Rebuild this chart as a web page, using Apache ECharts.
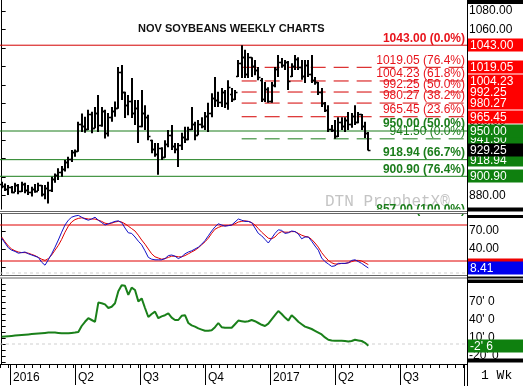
<!DOCTYPE html>
<html><head><meta charset="utf-8">
<script src="https://cdn.jsdelivr.net/npm/echarts@6/dist/echarts.min.js"></script>
<style>html,body{margin:0;padding:0;background:#fff}#c{width:523px;height:386px}</style>
</head><body><div id="c"></div><script>
// ---- data (weekly bars, Nov soybeans) ----
const opens  = [893,890,887,889,884,892,885,893,886,884,887,885,891,882,888,886,898,902,906,909,916,920,927,928,958,955,952,968,953,970,956,972,948,965,972,975,1014,992,978,982,970,975,955,970,965,940,930,925,932,922,936,946,934,930,935,944,941,952,958,946,958,955,966,970,986,984,981,992,980,990,985,1010,1024,1030,1012,1030,1020,1016,1005,985,996,983,1000,1017,1025,1022,1025,1010,1020,1028,1019,1010,1022,1012,1005,1003,992,980,973,952,951,945,960,955,962,958,966,960,968,955,948];
const highs  = [895,893,891.5,890.5,894,892.5,895,894,891.5,889.5,892.5,894,891.5,891.5,895,900.5,904,909.5,912,918.5,922,929.5,930,960,969,965.5,973,971,976,989,976,973,969.5,976,982,1019.5,1021.5,992.5,989,1007.5,983.5,983.5,994.5,978,967.5,940.5,937,937,932.5,940,951,956.5,937,937,948,954.5,954.5,976,960,962,965,970.5,980.5,991,1008.5,992.5,996.5,994.5,1005,996.5,994.5,1027,1043,1038,1034.5,1030,1027,1019.5,1007.5,1003,997.5,1003,1019.5,1032.5,1029,1027,1026,1023.5,1032.5,1030,1027,1027,1027,1032.5,1008.5,1003,996.5,981.5,978,956.5,962,965,965,965,970.5,969.5,978,970.5,968.5,960,949];
const lows   = [888,885,880.5,882.5,884,881.5,884,882.5,880.5,879,883,885,879,876,871.5,884,894,897,900.5,906,909.5,916.5,922,927.5,949,948,951,947.5,953,949,954.5,942,944,960,965.5,974,983.5,964,967,964,956.5,937,954,951,940,926,922,902.5,918.5,921,932.5,929.5,926,911,929.5,937,940,951,940,945.5,953,951,949,965,976,976,976,975,973,981.5,983.5,1008.5,1007.5,1007.5,1007.5,1008.5,1010.5,1005,981.5,981.5,980.5,980.5,997.5,1008.5,1018.5,1016,994.5,1008.5,1016,1016,1005.5,1002,1008.5,1002,1000,989,976,970.5,949,949,941.5,943.5,951,949,951,953.5,956.5,958.5,951,942.5,929];
const closes = [890,887,889,884,892,885,893,886,884,887,885,891,882,888,886,898,902,906,909,916,920,927,928,958,955,952,968,953,970,956,972,948,965,972,975,1014,992,978,982,970,975,955,970,965,945,930,925,932,922,936,946,934,930,935,944,941,952,958,946,958,955,966,970,986,984,981,992,980,998,985,992,1024,1030,1012,1030,1020,1016,1008,985,996,983,1000,1017,1025,1022,1025,1004,1020,1028,1019,1010,1022,1012,1005,1003,992,980,973,952,951,945,960,955,962,958,966,960,968,955,948,929.25];
// stochastic %K (blue) and %D (red)
const stochK = [58,50,42,38,36,33,34,35,32,30,28,26,18,13,22,32,43,55,68,80,88,93,95,96,93,90,88,90,93,88,84,80,82,84,86,87,84,75,67,66,60,53,47,37,26,23,22,22,22,24,29,30,28,24,27,32,35,37,40,43,48,54,62,70,77,82,80,78,79,80,85,90,88,86,86,84,75,66,62,56,50,58,66,72,71,66,67,70,69,65,57,60,60,53,45,38,25,19,15,11,12,16,16,16,17,21,22,19,16,12,8.41];
const stochD = [60,52,45,40,37,35,34,34,33,31,29,26,23,21,24,30,38,46,56,68,78,85,89,91,92,91,90,90,90,88,86,83,82,83,85,86,85,82,78,74,70,63,55,48,40,32,27,25,23,24,26,28,28,27,27,29,32,35,38,42,47,52,58,66,73,76,78,79,79,80,82,85,86,87,86,84,80,74,68,63,58,57,60,66,69,68,68,69,69,66,63,61,60,56,50,43,34,27,21,17,15,15,16,16,17,19,21,21,20,17,14];
// lower study (green)
const lowerStudy = [12,12.5,13,13.5,14,14.5,15,15.5,16,16.5,17,17.5,18,18.5,19,19,19,18.5,18,18,18,18.5,19,20,30,37,43,40,37,69,68,66,60,62,68,88,98,97,82,94,90,71,76,60,45,50,54,43,46,48,51,44,40,40,47,48,35,31,29,26,24,22,22,23,28,35,28,27,27,27,33,39,38,37,38,40,38,35,32,30,34,41,48,55,50,44,39,48,43,37,33,29,27,25,22,19,16,11,7,6,5.5,5.5,5.5,5,4,5,7,6,5,2,-2.75];
// levels
const swingHigh = 1043.00, swingLow = 941.50;
const redLevels = [1019.05, 1004.23, 992.25, 980.27, 965.45];
const redPcts   = ['76.4%','61.8%','50.0%','38.2%','23.6%'];
const greenLevels = [950.00, 918.94, 900.90, 857.00];
const greenPcts   = ['50.0%','66.7%','76.4%','100.0%'];
const priceTicks = [880,900,920,940,960,980,1000,1020,1040,1060,1080];
const stochTicks = [10,40,70];
const stochBands = [80,20];
const lowerTicks = [-20,10,40,70];
const lowerMinor = [-30,-20,-10,0,10,20,30,40,50,60,70,80,90,100];
const quarterWeeks  = [0,13,26,39,52,65,78];
const quarterLabels = ['2016','Q2','Q3','Q4','2017','Q2','Q3'];
const lastClose = closes[closes.length-1];
const lastK = stochK[stochK.length-1], lastD = stochD[stochD.length-1];
const lastLower = lowerStudy[lowerStudy.length-1];
const lastLowerText = "-2' 6";

// ---- chart ----
const RED_T = '#e8141c', RED_L = '#d40000', GRN = '#1b7d1b', GRN_BOX = '#0f800f';
const xMin = -0.5, xMax = 139.6;
const priceMin = 864.37, priceMax = 1092;
const highBar = highs.indexOf(Math.max.apply(null, highs));
const ohlc = closes.map((c,i)=>[i, opens[i], highs[i], lows[i], c]);
const idx = closes.map((c,i)=>i);
const minorWeeks = []; for (let w=-2; w<=91; w+=13/8) { if (Math.abs(w % 13)>0.01) minorWeeks.push(+w.toFixed(3)); }

function level(v, color, type, from, g) {
  return {type:'line', xAxisIndex:g, yAxisIndex:g, data:[[from, v],[xMax, v]], showSymbol:false, silent:true, z:2,
          lineStyle:{color:color, width:1, type:type}};
}
const series = [];
series.push(level(swingHigh, RED_L, 'solid', xMin, 0));
redLevels.forEach(v=>series.push(level(v, RED_L, [15,8], highBar, 0)));
greenLevels.forEach(v=>series.push(level(v, GRN, 'solid', xMin, 0)));
series.push(level(swingLow, GRN, [15,8], highBar, 0));
series.push({type:'custom', xAxisIndex:0, yAxisIndex:0, clip:true, data:ohlc, z:3,
  encode:{x:0, y:[1,2,3,4]},
  renderItem:function(params, api){
    const x = api.value(0);
    const h = api.coord([x, api.value(2)]), l = api.coord([x, api.value(3)]);
    const o = api.coord([x, api.value(1)]), c = api.coord([x, api.value(4)]);
    const xc = Math.round(h[0]);
    return {type:'group', children:[
      {type:'line', shape:{x1:xc, y1:h[1], x2:xc, y2:l[1]}, style:{stroke:'#000', lineWidth:2}},
      {type:'line', shape:{x1:xc-2, y1:Math.round(o[1])+0.5, x2:xc, y2:Math.round(o[1])+0.5}, style:{stroke:'#000', lineWidth:1.5}},
      {type:'line', shape:{x1:xc, y1:Math.round(c[1])+0.5, x2:xc+2.5, y2:Math.round(c[1])+0.5}, style:{stroke:'#000', lineWidth:1.5}}
    ]};
  }});
stochBands.forEach(v=>series.push(level(v, '#e00000', 'solid', xMin, 1)));
series.push(level(0, '#cfcfcf', [3,3], xMin, 1));
series.push({type:'line', xAxisIndex:1, yAxisIndex:1, data:idx.map(i=>[i,stochD[i]]), showSymbol:false, silent:true, lineStyle:{color:'#e00000', width:1}, z:3});
series.push({type:'line', xAxisIndex:1, yAxisIndex:1, data:idx.map(i=>[i,stochK[i]]), showSymbol:false, silent:true, lineStyle:{color:'#1010c8', width:1}, z:4});
series.push(level(0, '#cfcfcf', [3,3], xMin, 2));
series.push({type:'line', xAxisIndex:2, yAxisIndex:2, data:idx.map(i=>[i,lowerStudy[i]]), showSymbol:false, silent:true, lineStyle:{color:'#1a801a', width:2}, z:3});

const hidX = (g)=>({type:'value', gridIndex:g, min:xMin, max:xMax, show:false});
const yAx = (g, min, max, ticks, labels, fmt)=>({type:'value', gridIndex:g, position:'right', min:min, max:max, splitLine:{show:false},
  axisLine:{show:true, lineStyle:{color:'#000'}},
  axisTick:{show:true, customValues:ticks, length:4, lineStyle:{color:'#000'}},
  axisLabel:{customValues:labels, formatter:fmt, margin:2, fontFamily:'Liberation Sans', fontSize:12, color:'#000'}});

const baseGraphic = [
  {type:'text', x:325, y:194, z:1, style:{text:'DTN ProphetX\u00AE', font:'16px "Liberation Mono"', fill:'#c4c4c4'}},
  {type:'text', x:481, y:369, z:60, style:{text:'1 Wk', font:'13px "Liberation Mono"', fill:'#000'}}
];
const frameGraphic = [
  {type:'rect', shape:{x:0,y:209.5,width:467,height:3.5}, z:50, style:{fill:'#fff'}},
  {type:'line', shape:{x1:0,y1:211.5,x2:467,y2:211.5}, z:51, style:{stroke:'#666',lineWidth:1}},
  {type:'line', shape:{x1:0,y1:213.5,x2:467,y2:213.5}, z:51, style:{stroke:'#666',lineWidth:1}},
  {type:'line', shape:{x1:0,y1:275.5,x2:467,y2:275.5}, z:51, style:{stroke:'#666',lineWidth:1}},
  {type:'line', shape:{x1:0,y1:278,x2:467,y2:278}, z:51, style:{stroke:'#666',lineWidth:1}},
  {type:'line', shape:{x1:467.5,y1:0,x2:467.5,y2:386}, z:61, style:{stroke:'#000',lineWidth:1}},
  {type:'line', shape:{x1:464.5,y1:364,x2:464.5,y2:386}, z:61, style:{stroke:'#000',lineWidth:1}},
  {type:'rect', shape:{x:468,y:0,width:55,height:4}, z:61, style:{fill:'#000'}},
  {type:'rect', shape:{x:468,y:207.5,width:55,height:4}, z:61, style:{fill:'#000'}},
  {type:'rect', shape:{x:468,y:215,width:55,height:3}, z:61, style:{fill:'#000'}},
  {type:'rect', shape:{x:468,y:276.5,width:55,height:2}, z:61, style:{fill:'#000'}},
  {type:'rect', shape:{x:468,y:279.5,width:55,height:3.5}, z:61, style:{fill:'#000'}},
  {type:'rect', shape:{x:468,y:358.5,width:55,height:4}, z:61, style:{fill:'#000'}}
];

const option = {
  animation:false,
  backgroundColor:'#fff',
  title:{text:'NOV SOYBEANS WEEKLY CHARTS', left:133, top:18, textStyle:{fontFamily:'Liberation Sans', fontSize:11, fontWeight:'bold', color:'#111'}},
  grid:[
    {left:0, right:56, top:0, height:210},
    {left:0, right:56, top:213, height:62},
    {left:0, right:56, top:279, height:85}
  ],
  xAxis:[hidX(0), hidX(1), hidX(2),
    {type:'value', gridIndex:2, min:-2, max:91.4, position:'bottom',
     axisLine:{show:true, lineStyle:{color:'#000', width:1}},
     axisTick:{show:true, customValues:quarterWeeks, length:21, lineStyle:{color:'#000'}},
     axisLabel:{show:true, customValues:quarterWeeks, formatter:(v)=>quarterLabels[quarterWeeks.indexOf(v)]||'', align:'left', margin:8, padding:[0,0,0,3], fontFamily:'Liberation Sans', fontSize:12, color:'#000'},
     splitLine:{show:false}},
    {type:'value', gridIndex:2, min:-2, max:91.4, position:'bottom',
     axisLine:{show:false}, axisLabel:{show:false}, splitLine:{show:false},
     axisTick:{show:true, customValues:minorWeeks, length:4, lineStyle:{color:'#000'}}}
  ],
  yAxis:[
    yAx(0, priceMin, priceMax, priceTicks, priceTicks, (v)=>v.toFixed(2)),
    yAx(1, -3.33, 100, stochTicks, stochTicks, (v)=>v.toFixed(2)),
    yAx(2, -33.33, 108.33, lowerMinor, lowerTicks, (v)=>v+"' 0")
  ],
  graphic: baseGraphic.concat(frameGraphic),
  series: series
};
const chart = echarts.init(document.getElementById('c'));
chart.setOption(option);

// ---- value labels, placed through the axes' own scales ----
const py = (g, v)=>chart.convertToPixel({yAxisIndex:g}, v);
const extra = [];
let z = 20;
function inText(v, text, color, bold) {
  extra.push({type:'text', x:465, y:py(0,v)-1, z:z++, style:{text:text, align:'right', verticalAlign:'bottom',
    font:(bold?'bold ':'')+'12px "Liberation Sans"', fill:color}});
}
inText(swingHigh, swingHigh.toFixed(2)+' (0.0%)', RED_T, true);
redLevels.forEach((v,i)=>inText(v, v.toFixed(2)+' ('+redPcts[i]+')', RED_T, false));
inText(swingLow, swingLow.toFixed(2)+' (0.0%)', GRN, false);
greenLevels.forEach((v,i)=>inText(v, v.toFixed(2)+' ('+greenPcts[i]+')', GRN, true));
z = 70;
function box(g, v, bg, text) {
  const y = py(g, v);
  extra.push({type:'rect', shape:{x:468, y:Math.round(y)-6.5, width:55, height:13}, z:z++, style:{fill:bg}});
  if (text) extra.push({type:'text', x:470, y:Math.round(y)+0.5, z:z++, style:{text:text, align:'left', verticalAlign:'middle', font:'12px "Liberation Sans"', fill:'#fff'}});
}
box(0, swingHigh, '#ff0000', swingHigh.toFixed(2));
redLevels.forEach(v=>box(0, v, '#ff0000', v.toFixed(2)));
box(0, swingLow, GRN_BOX, swingLow.toFixed(2));
greenLevels.filter(v=>v>=priceMin && v<=priceMax).forEach(v=>box(0, v, GRN_BOX, v.toFixed(2)));
box(0, lastClose, '#000000', lastClose.toFixed(2));
box(1, lastD, '#ee0000', '');
box(1, lastK, '#0000ee', lastK.toFixed(2));
box(2, lastLower, GRN_BOX, lastLowerText);
chart.setOption({graphic: baseGraphic.concat(frameGraphic, extra)});
</script></body></html>
